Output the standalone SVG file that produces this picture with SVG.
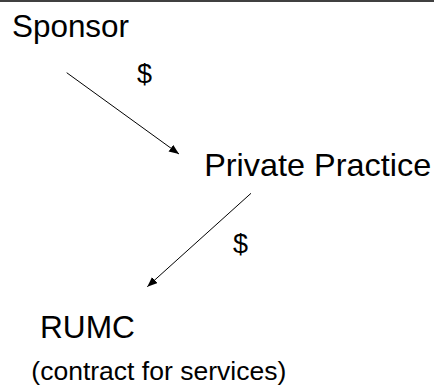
<svg xmlns="http://www.w3.org/2000/svg" width="434" height="390" viewBox="0 0 434 390">
<style>
.lbl{font-family:"Liberation Sans",Arial,Helvetica,sans-serif;fill:#000;}
.big{font-size:30.5px;}
.small{font-size:25px;}
.cur{font-size:27px;}
.conn{stroke:#000;stroke-width:1;fill:none;marker-end:url(#ah);}
</style>
<defs>
<marker id="ah" markerUnits="userSpaceOnUse" markerWidth="11" markerHeight="9" refX="10" refY="4" orient="auto" viewBox="0 0 11 9">
<path d="M0,0 L10,4 L0,8 z" fill="#000"/>
</marker>
</defs>
<rect x="0" y="0" width="434" height="390" fill="#fff"/>
<line x1="0" y1="1" x2="434" y2="1" stroke="#000" stroke-width="1.5"/>
<g id="sponsor"><text class="lbl big" x="12" y="36.7" textLength="117" lengthAdjust="spacingAndGlyphs">Sponsor</text></g>
<g id="private-practice"><text class="lbl big" x="204.2" y="175.5" textLength="227" lengthAdjust="spacingAndGlyphs">Private Practice</text></g>
<g id="rumc"><text class="lbl big" x="40" y="337.5" textLength="95" lengthAdjust="spacingAndGlyphs">RUMC</text>
<text class="lbl small" x="31.3" y="380" textLength="255" lengthAdjust="spacingAndGlyphs">(contract for services)</text></g>
<g id="connectors">
<line class="conn" x1="66.7" y1="72.7" x2="179" y2="154"/>
<line class="conn" x1="251" y1="193.3" x2="147.3" y2="286.7"/>
<text class="lbl cur" x="137" y="83.4">$</text>
<text class="lbl cur" x="233" y="253.4">$</text>
</g>
</svg>
